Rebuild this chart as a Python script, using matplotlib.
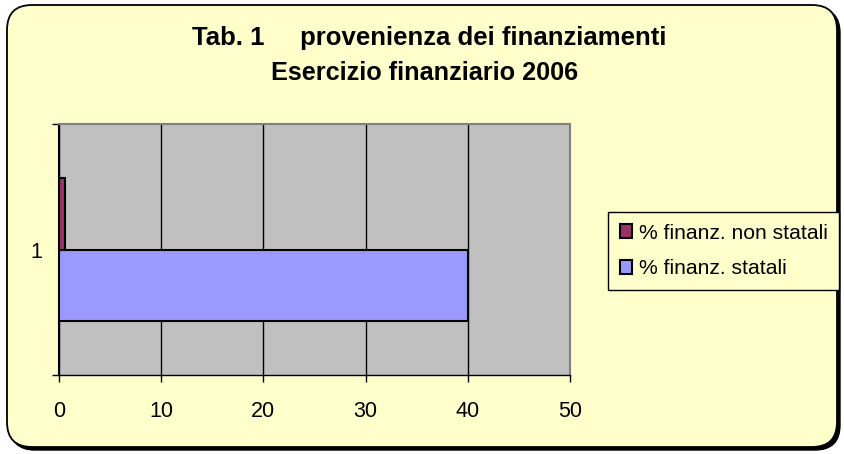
import matplotlib
matplotlib.use("Agg")
import matplotlib.pyplot as plt
from matplotlib.patches import FancyBboxPatch

plt.rcParams['font.family'] = ['Liberation Sans', 'DejaVu Sans']

categories = ["1"]
series_names = ["% finanz. statali", "% finanz. non statali"]
statali = [40.0]
non_statali = [0.6]
x_ticks = [0, 10, 20, 30, 40, 50]
title_lines = ["Tab. 1     provenienza dei finanziamenti", "Esercizio finanziario 2006"]

W, H = 844, 454
fig = plt.figure(figsize=(W / 100, H / 100), dpi=100)
fig.patch.set_facecolor("white")

# shadow + rounded frame
r = 25
shadow = FancyBboxPatch((7 + 3 + r, H - 447 - 3 + r), (837 - 7) - 2 * r, (447 - 5) - 2 * r,
                        boxstyle=f"round,pad={r}", transform=None,
                        facecolor="black", edgecolor="black", lw=1, zorder=0)
frame = FancyBboxPatch((7 + r, H - 447 + r), (837 - 7) - 2 * r, (447 - 5) - 2 * r,
                       boxstyle=f"round,pad={r}", transform=None,
                       facecolor="#FFFFCC", edgecolor="black", lw=1.3, zorder=1)
fig.patches.extend([shadow, frame])

ax = fig.add_axes([59 / W, 1 - 375 / H, (570 - 59) / W, (375 - 124) / H])
ax.set_facecolor("#C0C0C0")
ax.set_zorder(2)

bh = 0.286
ypos = [1]
b1 = ax.barh([y - bh / 2 for y in ypos], statali, height=bh, color="#9999FF",
             edgecolor="black", linewidth=1.5, label=series_names[0], zorder=3)
b2 = ax.barh([y + bh / 2 for y in ypos], non_statali, height=bh, color="#993366",
             edgecolor="black", linewidth=1.5, label=series_names[1], zorder=3)

ax.set_xlim(0, 50)
ax.set_ylim(0.5, 1.5)
ax.set_xticks(x_ticks)
ax.set_xticklabels([str(t) for t in x_ticks], fontsize=15.5)
ax.set_yticks([1])
ax.set_yticklabels(categories, fontsize=15.5)
ax.set_yticks([0.5, 1.5], minor=True)
ax.tick_params(axis="y", which="major", length=0, pad=12)
ax.tick_params(axis="y", which="minor", length=5, direction="out", width=1)
ax.tick_params(axis="x", length=5, direction="out", width=1, pad=14)
ax.grid(axis="x", color="black", linewidth=1, zorder=1)
ax.set_axisbelow(True)
for s in ["top", "right"]:
    ax.spines[s].set_color("#808080")
    ax.spines[s].set_linewidth(1.5)
ax.spines["left"].set_color("black")
ax.spines["bottom"].set_color("black")
ax.spines["left"].set_linewidth(1.5)
ax.spines["bottom"].set_linewidth(1)

fig.text(429 / W, 1 - 38 / H, title_lines[0], ha="center", va="center",
         fontsize=18.5, fontweight="bold", zorder=5)
fig.text(425 / W, 1 - 73 / H, title_lines[1], ha="center", va="center",
         fontsize=18.2, fontweight="bold", zorder=5)

leg = fig.legend(handles=[b2, b1], labels=[series_names[1], series_names[0]],
                 loc="upper left", bbox_to_anchor=(608 / W, 1 - 212 / H),
                 fontsize=15.2, frameon=True, fancybox=False, framealpha=1,
                 edgecolor="black", facecolor="#FFFFCC", handlelength=0.6,
                 handleheight=0.6, handletextpad=0.3, borderpad=0.55,
                 labelspacing=0.8, borderaxespad=0)
leg.get_frame().set_linewidth(1)
leg.set_zorder(5)

fig.savefig("out.png", dpi=100, facecolor=fig.get_facecolor())
